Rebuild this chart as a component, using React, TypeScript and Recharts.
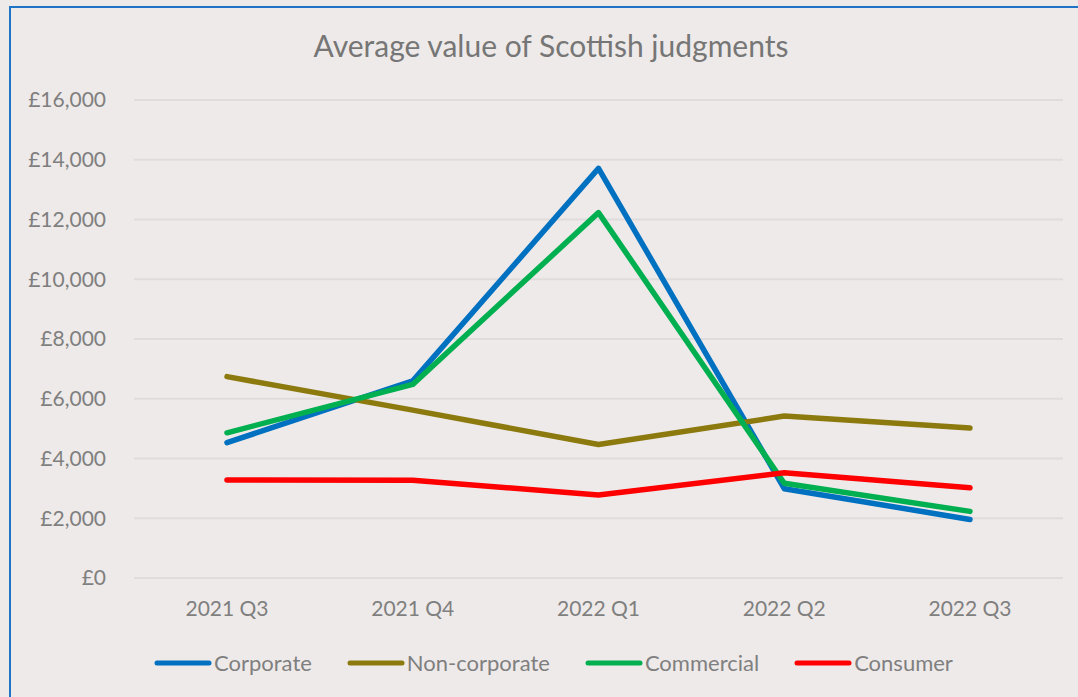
import { LineChart, Line, XAxis, YAxis, CartesianGrid, Legend } from 'recharts';

const quarters = ['2021 Q3', '2021 Q4', '2022 Q1', '2022 Q2', '2022 Q3'];
const corporate = [4530, 6600, 13710, 2990, 1960];
const nonCorporate = [6740, 5620, 4470, 5420, 5020];
const commercial = [4860, 6480, 12230, 3170, 2230];
const consumer = [3280, 3270, 2780, 3520, 3020];
const yTicks = [0, 2000, 4000, 6000, 8000, 10000, 12000, 14000, 16000];

const seriesInfo = [
  { key: 'corporate', name: 'Corporate', color: '#0070C0' },
  { key: 'nonCorporate', name: 'Non-corporate', color: '#8C7A0E' },
  { key: 'commercial', name: 'Commercial', color: '#00B050' },
  { key: 'consumer', name: 'Consumer', color: '#FF0000' },
];

const data = quarters.map((q, i) => ({
  quarter: q,
  corporate: corporate[i],
  nonCorporate: nonCorporate[i],
  commercial: commercial[i],
  consumer: consumer[i],
}));

const textGrey = '#7F7F7F';
const fmt = (v: number) => '£' + v.toLocaleString('en-GB');

function LegendRow() {
  return (
    <div style={{ display: 'flex', alignItems: 'center', gap: 35 }}>
      {seriesInfo.map(s => (
        <div key={s.key} style={{ display: 'flex', alignItems: 'center' }}>
          <svg width={58} height={10} style={{ marginRight: 2 }}>
            <line x1={3} y1={5} x2={55} y2={5} stroke={s.color} strokeWidth={5} strokeLinecap="round" />
          </svg>
          <span style={{ color: textGrey, fontSize: 22 }}>{s.name}</span>
        </div>
      ))}
    </div>
  );
}

export default function App() {
  return (
    <div
      style={{
        position: 'absolute',
        left: 0,
        top: 0,
        width: 1078,
        height: 697,
        overflow: 'hidden',
        background: '#EEEAE9',
        fontFamily: 'Lato, sans-serif',
      }}
    >
      <div
        style={{
          position: 'absolute',
          left: 9,
          top: 6,
          width: 1120,
          height: 740,
          border: '2px solid #1F74C6',
        }}
      />
      <div
        style={{
          position: 'absolute',
          left: 0,
          width: 1102,
          top: 27,
          textAlign: 'center',
          fontSize: 30,
          color: '#767676',
        }}
      >
        Average value of Scottish judgments
      </div>
      <div style={{ position: 'absolute', left: 0, top: 0 }}>
        <LineChart width={1078} height={697} data={data} margin={{ top: 100, right: 15, left: 0, bottom: 79 }}>
          <CartesianGrid horizontal vertical={false} stroke="#DFDCDB" strokeWidth={2} />
          <XAxis
            dataKey="quarter"
            axisLine={false}
            tickLine={false}
            height={40}
            tickMargin={17}
            padding={{ left: 93, right: 93 }}
            tick={{ fontSize: 21, fill: textGrey }}
          />
          <YAxis
            domain={[0, 16000]}
            ticks={yTicks}
            width={134}
            axisLine={false}
            tickLine={false}
            tickMargin={22}
            tickFormatter={fmt}
            tick={{ fontSize: 21, fill: textGrey }}
          />
          <Legend
            verticalAlign="middle"
            align="center"
            content={() => <LegendRow />}
            wrapperStyle={{ top: 649, left: 154, width: 'auto' }}
          />
          {seriesInfo.map(s => (
            <Line
              key={s.key}
              type="linear"
              dataKey={s.key}
              name={s.name}
              stroke={s.color}
              strokeWidth={5.5}
              strokeLinecap="round"
              strokeLinejoin="round"
              dot={false}
              activeDot={false}
              isAnimationActive={false}
            />
          ))}
        </LineChart>
      </div>
    </div>
  );
}
